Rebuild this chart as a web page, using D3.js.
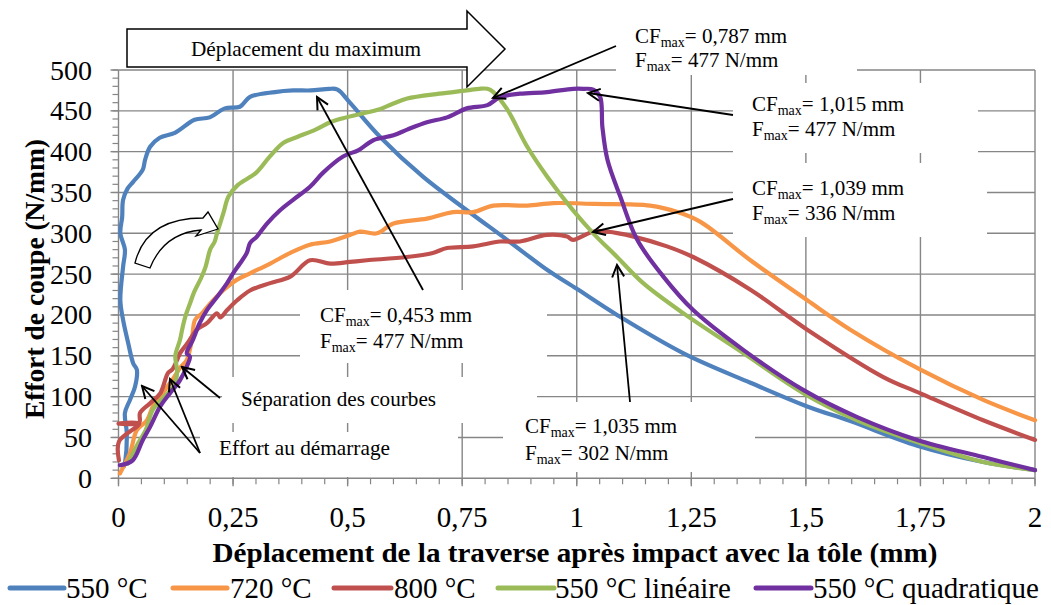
<!DOCTYPE html>
<html><head><meta charset="utf-8">
<script src="https://cdn.jsdelivr.net/npm/d3@7"></script>
<style>
body{margin:0;background:#fff}
svg{display:block}
text{font-family:"Liberation Serif","Times New Roman",Times,serif;fill:#000}
</style>
</head><body>
<svg id="chart" width="1051" height="605" font-family="Liberation Serif, Times New Roman, serif"></svg>
<script>
// ---------- data ----------
const xTicks = [0, 0.25, 0.5, 0.75, 1, 1.25, 1.5, 1.75, 2];
const xTickLabels = ["0", "0,25", "0,5", "0,75", "1", "1,25", "1,5", "1,75", "2"];
const yTicks = [0, 50, 100, 150, 200, 250, 300, 350, 400, 450, 500];
const yTickLabels = ["0", "50", "100", "150", "200", "250", "300", "350", "400", "450", "500"];
const seriesNames = ["550 °C", "720 °C", "800 °C", "550 °C linéaire", "550 °C quadratique"];
const seriesColors = ["#4F81BD", "#F79646", "#C0504D", "#9BBB59", "#7030A0"];

const s550 = [[0.012,15],[0.015,22],[0.018,56],[0.014,80],[0.025,96],[0.036,112],[0.04,133],[0.032,141],
  [0.021,166],[0.01,194],[0.004,218],[0.01,259],[0.014,280],[0.004,300],[0.008,320],[0.01,341],[0.02,355],
  [0.032,363],[0.053,378],[0.058,390],[0.069,406],[0.09,417],[0.123,423],[0.166,439],[0.199,442],[0.232,453],
  [0.265,455],[0.287,467],[0.341,473],[0.381,475],[0.42,475],[0.46,477],[0.478,476],[0.505,460],[0.571,418],
  [0.665,369],[0.761,328],[0.848,292],[0.936,255],[1.0,232],[1.088,200],[1.233,153],[1.379,117],[1.503,88],
  [1.597,70],[1.743,40],[1.887,20],[2,10]];
const s720 = [[0.003,6],[0.025,31],[0.04,59],[0.062,71],[0.075,88],[0.09,100],[0.117,120],[0.134,135],[0.149,145],
  [0.16,169],[0.167,194],[0.182,202],[0.2,214],[0.228,230],[0.258,243],[0.287,251],[0.331,263],[0.375,276],
  [0.418,286],[0.462,290],[0.505,298],[0.527,302],[0.564,300],[0.6,312],[0.673,318],[0.73,326],[0.774,326],
  [0.818,334],[0.892,334],[0.949,337],[1.039,336],[1.16,334],[1.22,326],[1.27,314],[1.379,267],[1.503,218],
  [1.597,182],[1.75,133],[1.887,96],[2,71]];
const s800 = [[0.001,22],[0.001,45],[0.045,67],[0.0,67],[0.045,68],[0.047,80],[0.069,92],[0.091,104],[0.108,129],
  [0.117,133],[0.128,145],[0.134,153],[0.15,165],[0.171,182],[0.193,190],[0.215,202],[0.222,197],[0.237,206],
  [0.259,218],[0.287,230],[0.331,239],[0.375,247],[0.418,267],[0.462,263],[0.505,265],[0.542,267],[0.629,271],
  [0.686,276],[0.717,282],[0.774,284],[0.833,290],[0.876,290],[0.935,298],[0.979,296],[0.992,292],[1.035,302],
  [1.067,302],[1.124,296],[1.197,284],[1.254,271],[1.379,231],[1.503,182],[1.669,124],[1.75,104],[1.887,71],[2,47]];
const s550lin = [[0.02,18],[0.04,40],[0.06,60],[0.075,84],[0.1,100],[0.12,112],[0.128,130],[0.124,150],[0.134,169],
  [0.14,185],[0.147,200],[0.156,214],[0.165,228],[0.18,245],[0.19,259],[0.2,280],[0.21,290],[0.215,300],
  [0.229,325],[0.24,345],[0.26,359],[0.3,374],[0.33,394],[0.36,411],[0.39,418],[0.43,427],[0.462,436],
  [0.49,441],[0.534,447],[0.57,452],[0.6,459],[0.63,465],[0.7,471],[0.76,475],[0.787,477],[0.805,477],
  [0.818,473],[0.848,452],[0.892,406],[0.936,369],[0.992,328],[1.036,300],[1.088,271],[1.145,239],[1.233,202],
  [1.364,153],[1.495,104],[1.612,71],[1.75,43],[1.887,20],[2,10]];
const s550quad = [[0.003,16],[0.031,22],[0.053,47],[0.069,63],[0.091,88],[0.112,104],[0.134,120],[0.149,137],
  [0.156,149],[0.149,153],[0.162,169],[0.177,190],[0.193,206],[0.215,222],[0.237,239],[0.25,251],[0.265,263],
  [0.28,276],[0.287,288],[0.302,296],[0.324,312],[0.352,328],[0.381,341],[0.418,357],[0.446,374],[0.49,394],
  [0.524,402],[0.556,414],[0.6,420],[0.63,427],[0.673,436],[0.717,442],[0.76,453],[0.805,457],[0.833,467],
  [0.876,471],[0.935,473],[0.992,477],[1.015,477],[1.036,476],[1.051,467],[1.056,430],[1.067,390],[1.095,345],
  [1.132,292],[1.189,247],[1.254,206],[1.364,157],[1.495,108],[1.612,75],[1.743,47],[1.887,26],[2,10]];
const seriesData = [s550, s720, s800, s550lin, s550quad];

// annotation texts
const annotCF = ["0,787", "1,015", "1,039", "0,453", "1,035"];
const annotF = ["477", "477", "336", "477", "302"];

// ---------- layout ----------
const svg = d3.select("#chart");
const x = d3.scaleLinear().domain([0, 2]).range([118.5, 1035]);
const y = d3.scaleLinear().domain([0, 500]).range([478.3, 70]);
const gridColor = "#868686";

// gridlines
const grid = svg.append("g");
grid.selectAll(".vg").data(xTicks.slice(1)).join("line")
  .attr("x1", d => x(d)).attr("x2", d => x(d)).attr("y1", y(0)).attr("y2", y(500))
  .attr("stroke", gridColor).attr("stroke-width", 1.4);
grid.selectAll(".hg").data(yTicks.slice(1)).join("line")
  .attr("x1", x(0)).attr("x2", x(2)).attr("y1", d => y(d)).attr("y2", d => y(d))
  .attr("stroke", gridColor).attr("stroke-width", 1.4);

// white label boxes (hide grid)
const boxes = [[616,20,241,55],[733,83,245,70],[733,163,254,74],[300,290,247,73],[222,377,315,46],[200,432,258,45],[503,402,252,70]];
svg.append("g").selectAll("rect").data(boxes).join("rect")
  .attr("x", d => d[0]).attr("y", d => d[1]).attr("width", d => d[2]).attr("height", d => d[3])
  .attr("fill", "#fff");

// axes
const minorX = d3.range(0, 2.0001, 0.05);
const minorY = d3.range(0, 500.001, 10);
const ax = svg.append("g");
ax.append("line").attr("x1", x(0)).attr("x2", x(2)).attr("y1", y(0)).attr("y2", y(0)).attr("stroke", gridColor).attr("stroke-width", 1.4);
ax.append("line").attr("x1", x(0)).attr("x2", x(0)).attr("y1", y(0)).attr("y2", y(500)).attr("stroke", gridColor).attr("stroke-width", 1.4);
ax.selectAll(".mx").data(minorX).join("line")
  .attr("x1", d => x(d)).attr("x2", d => x(d)).attr("y1", y(0)).attr("y2", y(0) + 6)
  .attr("stroke", gridColor).attr("stroke-width", 1.2);
ax.selectAll(".my").data(minorY).join("line")
  .attr("x1", x(0) - 6).attr("x2", x(0)).attr("y1", d => y(d)).attr("y2", d => y(d))
  .attr("stroke", gridColor).attr("stroke-width", 1.2);
ax.selectAll(".Mx").data(xTicks).join("line")
  .attr("x1", d => x(d)).attr("x2", d => x(d)).attr("y1", y(0)).attr("y2", y(0) + 8)
  .attr("stroke", gridColor).attr("stroke-width", 1.4);
ax.selectAll(".My").data(yTicks).join("line")
  .attr("x1", x(0) - 8).attr("x2", x(0)).attr("y1", d => y(d)).attr("y2", d => y(d))
  .attr("stroke", gridColor).attr("stroke-width", 1.4);

// tick labels
svg.append("g").selectAll("text").data(xTicks).join("text")
  .attr("x", d => x(d)).attr("y", 527).attr("text-anchor", "middle")
  .attr("font-size", 29).text((d, i) => xTickLabels[i]);
svg.append("g").selectAll("text").data(yTicks).join("text")
  .attr("x", 92).attr("y", d => y(d) + 9.5).attr("text-anchor", "end")
  .attr("font-size", 28)
  .text((d, i) => yTickLabels[i]);

// axis titles
svg.append("text").attr("x", 575).attr("y", 562).attr("text-anchor", "middle")
  .attr("font-size", 27).attr("font-weight", "bold")
  .attr("textLength", 725).attr("lengthAdjust", "spacingAndGlyphs")
  .text("Déplacement de la traverse après impact avec la tôle (mm)");
svg.append("text").attr("transform", "translate(44,279) rotate(-90)").attr("text-anchor", "middle")
  .attr("font-size", 27.5).attr("font-weight", "bold")
  .attr("textLength", 280).attr("lengthAdjust", "spacingAndGlyphs")
  .text("Effort de coupe (N/mm)");

// big arrow annotation
svg.append("path").attr("d", "M127,29 L467,29 L467,11 L505,49 L467,87 L467,67 L127,67 Z")
  .attr("fill", "#fff").attr("stroke", "#000").attr("stroke-width", 1.5);
svg.append("text").attr("x", 191).attr("y", 56).attr("font-size", 21)
  .attr("textLength", 230).attr("lengthAdjust", "spacingAndGlyphs").text("Déplacement du maximum");

// curves
const line = d3.line().x(d => x(d[0])).y(d => y(d[1])).curve(d3.curveCatmullRom.alpha(0.5));
svg.append("g").selectAll("path").data(seriesData).join("path")
  .attr("d", line).attr("fill", "none").attr("stroke", (d, i) => seriesColors[i])
  .attr("stroke-width", 4.2).attr("stroke-linejoin", "round").attr("stroke-linecap", "round");

// curved arrow
svg.append("path").attr("d", "M135,263 Q146,218 203,218 L208,212 L218,229 L196,236 L201,230 Q164,233 150,268 Z")
  .attr("fill", "#fff").attr("stroke", "#000").attr("stroke-width", 1.3);

// arrow marker
const defs = svg.append("defs");
defs.append("marker").attr("id", "ah").attr("viewBox", "-14 -8 16 16").attr("refX", 0).attr("refY", 0)
  .attr("markerWidth", 16).attr("markerHeight", 16).attr("markerUnits", "userSpaceOnUse").attr("orient", "auto")
  .append("path").attr("d", "M-12,-6 L0,0 L-12,6").attr("fill", "none").attr("stroke", "#000").attr("stroke-width", 2);

const arrows = [[616,46,493,98],[733,115,588,93],[733,199,593,232],[423,290,317,97],[630,402,617,265],
  [220,398,182,367],[200,453,142,386],[200,453,170,379]];
svg.append("g").selectAll("line").data(arrows).join("line")
  .attr("x1", d => d[0]).attr("y1", d => d[1]).attr("x2", d => d[2]).attr("y2", d => d[3])
  .attr("stroke", "#000").attr("stroke-width", 1.8).attr("marker-end", "url(#ah)");

// CF labels
const labelPos = [[635,43,67],[752,111,136],[752,195,220],[320,322,348],[525,433,460]];
const lab = svg.append("g");
labelPos.forEach((p, i) => {
  const t1 = lab.append("text").attr("x", p[0]).attr("y", p[1]).attr("font-size", 21);
  t1.append("tspan").text("CF");
  t1.append("tspan").attr("font-size", 14).attr("dy", 4).text("max");
  t1.append("tspan").attr("dy", -4).text("= " + annotCF[i] + " mm");
  const t2 = lab.append("text").attr("x", p[0]).attr("y", p[2]).attr("font-size", 21);
  t2.append("tspan").text("F");
  t2.append("tspan").attr("font-size", 14).attr("dy", 4).text("max");
  t2.append("tspan").attr("dy", -4).text("= " + annotF[i] + " N/mm");
});
lab.append("text").attr("x", 241).attr("y", 406).attr("font-size", 21)
  .attr("textLength", 195).attr("lengthAdjust", "spacingAndGlyphs").text("Séparation des courbes");
lab.append("text").attr("x", 219).attr("y", 455).attr("font-size", 21)
  .attr("textLength", 171).attr("lengthAdjust", "spacingAndGlyphs").text("Effort au démarrage");

// legend
const legLine = [[10,64],[173,227],[334,391],[498,554],[756,811]];
const legTextX = [66, 230, 394, 555, 813];
const leg = svg.append("g");
seriesNames.forEach((n, i) => {
  leg.append("line").attr("x1", legLine[i][0]).attr("x2", legLine[i][1]).attr("y1", 588).attr("y2", 588)
    .attr("stroke", seriesColors[i]).attr("stroke-width", 5).attr("stroke-linecap", "round");
  leg.append("text").attr("x", legTextX[i]).attr("y", 598).attr("font-size", 29).text(n);
});
</script>
</body></html>
